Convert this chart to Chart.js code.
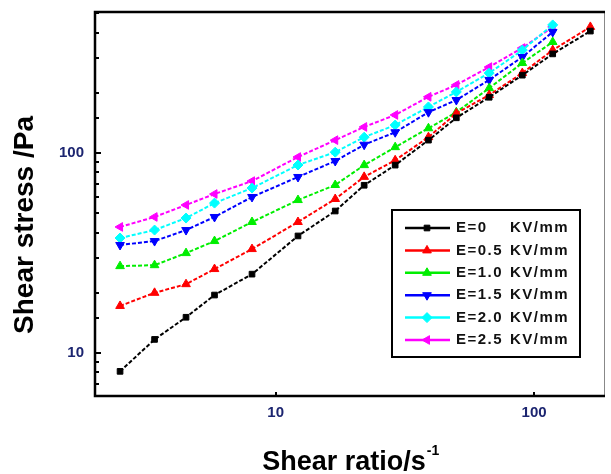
<!DOCTYPE html>
<html>
<head>
<meta charset="utf-8">
<script src="https://cdn.jsdelivr.net/npm/chart.js@4"></script>
<style>
  body { margin: 0; background: #fff; }
  #chart { display: block; }
</style>
</head>
<body>
<canvas id="chart" width="611" height="474"></canvas>
<script>
// shear rate (1/s)
const shearRate = [2.5, 3.4, 4.5, 5.8, 8.1, 12.2, 17, 22, 29, 39, 50, 67, 90, 118, 165];

// shear stress (Pa) for each field strength
const stressE00 = [8.1, 11.7, 15.1, 19.5, 24.8, 38.5, 51.3, 69, 87, 116, 150, 190, 245, 313, 407];
const stressE05 = [17.2, 20, 22.1, 26.3, 33.1, 45.2, 58.9, 76, 92, 120, 158, 195, 251, 327, 427];
const stressE10 = [27.2, 27.5, 31.6, 36.3, 45.2, 58.2, 69.2, 87, 107, 133, 160, 211, 282, 359];
const stressE15 = [34.7, 36.3, 41.2, 47.9, 60.3, 75.9, 91.2, 110, 127, 160, 184, 232, 302, 403];
const stressE20 = [37.6, 41.2, 47.3, 56.2, 66.8, 87.1, 101, 120, 138, 170, 202, 251, 327, 437];
const stressE25 = [42.7, 47.9, 55, 62.4, 72.4, 95.5, 116, 135, 155, 191, 219, 269, 335, 427];

const fieldLabels = ["E=0", "E=0.5", "E=1.0", "E=1.5", "E=2.0", "E=2.5"];
const unitLabel = "KV/mm";
const xTitle = "Shear ratio/s";
const yTitle = "Shear stress /Pa";

const seriesValues = [stressE00, stressE05, stressE10, stressE15, stressE20, stressE25];
const seriesColors = ["#000000", "#ff0000", "#00ee00", "#0000ff", "#00ffff", "#ff00ff"];
const seriesMarkers = ["rect", "triangle", "triangle", "triangle", "rectRot", "triangle"];
const seriesRotation = [0, 0, 0, 180, 0, 270];

const tickColor = "#1c2570";
const fontFamily = "'Liberation Sans', Arial, sans-serif";

function toPoints(values) {
    return values.map((v, i) => ({ x: shearRate[i], y: v }));
}

function isDecade(v) {
    const l = Math.log10(v);
    return Math.abs(l - Math.round(l)) < 1e-6;
}

const datasets = seriesValues.map((vals, i) => ({
    label: fieldLabels[i] + " " + unitLabel,
    data: toPoints(vals),
    borderColor: seriesColors[i],
    backgroundColor: seriesColors[i],
    borderWidth: 2,
    borderDash: [4, 2],
    pointStyle: seriesMarkers[i],
    rotation: seriesRotation[i],
    pointRadius: i === 0 ? 4 : 5,
    pointBorderWidth: 1,
    tension: 0
}));

// frame, inward ticks, axis titles and the boxed legend
const decorPlugin = {
    id: "decor",
    afterDraw(chart) {
        const ctx = chart.ctx;
        const area = chart.chartArea;
        const xs = chart.scales.x;
        const ys = chart.scales.y;
        ctx.save();

        // inward ticks on left axis
        ctx.strokeStyle = "#000";
        ctx.lineWidth = 2;
        ys.ticks.forEach(t => {
            const py = Math.round(ys.getPixelForValue(t.value));
            const len = isDecade(t.value) ? 6 : 4;
            ctx.beginPath();
            ctx.moveTo(area.left, py);
            ctx.lineTo(area.left + len, py);
            ctx.stroke();
        });
        // inward ticks on bottom axis (decades only)
        xs.ticks.forEach(t => {
            if (!isDecade(t.value)) return;
            const px = Math.round(xs.getPixelForValue(t.value));
            ctx.beginPath();
            ctx.moveTo(px, area.bottom);
            ctx.lineTo(px, area.bottom - 4);
            ctx.stroke();
        });

        // frame
        ctx.strokeStyle = "#888";
        ctx.lineWidth = 1;
        ctx.beginPath();
        ctx.moveTo(area.right - 0.5, area.top);
        ctx.lineTo(area.right - 0.5, area.bottom);
        ctx.stroke();
        ctx.strokeStyle = "#000";
        ctx.lineWidth = 2.5;
        ctx.beginPath();
        ctx.moveTo(area.right, area.top);
        ctx.lineTo(area.left, area.top);
        ctx.lineTo(area.left, area.bottom);
        ctx.lineTo(area.right, area.bottom);
        ctx.stroke();

        // axis titles
        ctx.fillStyle = "#000";
        ctx.font = "bold 28px " + fontFamily;
        ctx.textAlign = "center";
        ctx.textBaseline = "middle";
        ctx.save();
        ctx.translate(25, 225);
        ctx.rotate(-Math.PI / 2);
        ctx.fillText(yTitle, 0, 0);
        ctx.restore();

        ctx.font = "bold 27px " + fontFamily;
        ctx.textAlign = "left";
        ctx.textBaseline = "alphabetic";
        const w = ctx.measureText(xTitle).width;
        const x0 = 350 - (w + 12) / 2;
        ctx.fillText(xTitle, x0, 470);
        ctx.font = "bold 14px " + fontFamily;
        ctx.fillText("-1", x0 + w + 1, 455);

        // legend box
        const box = { left: 392, top: 210, right: 580, bottom: 357 };
        ctx.fillStyle = "#fff";
        ctx.fillRect(box.left, box.top, box.right - box.left, box.bottom - box.top);
        ctx.strokeStyle = "#000";
        ctx.lineWidth = 2;
        ctx.strokeRect(box.left, box.top, box.right - box.left, box.bottom - box.top);

        ctx.font = "bold 15px " + fontFamily;
        ctx.letterSpacing = "1.5px";
        ctx.textBaseline = "middle";
        chart.data.datasets.forEach((ds, i) => {
            const ly = 228 + i * 22.4;
            ctx.strokeStyle = ds.borderColor;
            ctx.fillStyle = ds.backgroundColor;
            ctx.lineWidth = 2.5;
            ctx.setLineDash([]);
            ctx.beginPath();
            ctx.moveTo(405, ly);
            ctx.lineTo(450, ly);
            ctx.stroke();
            ctx.lineWidth = 1;
            Chart.helpers.drawPoint(ctx, {
                pointStyle: ds.pointStyle,
                rotation: ds.rotation,
                radius: ds.pointRadius,
                borderWidth: 1
            }, 427, ly);
            ctx.fillStyle = "#111";
            ctx.fillText(fieldLabels[i], 456, ly);
            ctx.fillText(unitLabel, 510, ly);
        });

        ctx.restore();
    }
};

new Chart(document.getElementById("chart").getContext("2d"), {
    type: "line",
    data: { datasets: datasets },
    options: {
        responsive: false,
        animation: false,
        devicePixelRatio: 1,
        layout: { padding: { left: 0, right: 3, top: 12, bottom: 0 } },
        plugins: {
            legend: { display: false },
            tooltip: { enabled: false }
        },
        scales: {
            x: {
                type: "logarithmic",
                min: 2,
                max: 188,
                grid: { display: false, drawTicks: false },
                border: { display: false },
                ticks: {
                    autoSkip: false,
                    maxRotation: 0,
                    padding: 8,
                    color: tickColor,
                    font: { family: fontFamily, size: 15, weight: "bold" },
                    callback: v => isDecade(v) ? String(Math.round(v)) : ""
                },
                afterFit: s => { s.height = 78; s.paddingLeft = 0; s.paddingRight = 0; }
            },
            y: {
                type: "logarithmic",
                min: 6.1,
                max: 507,
                grid: { display: false, drawTicks: false },
                border: { display: false },
                ticks: {
                    autoSkip: false,
                    padding: 11,
                    color: tickColor,
                    font: { family: fontFamily, size: 15, weight: "bold" },
                    callback: v => isDecade(v) ? String(Math.round(v)) : ""
                },
                afterFit: s => { s.width = 95; s.paddingTop = 0; s.paddingBottom = 0; }
            }
        }
    },
    plugins: [decorPlugin]
});
</script>
</body>
</html>
